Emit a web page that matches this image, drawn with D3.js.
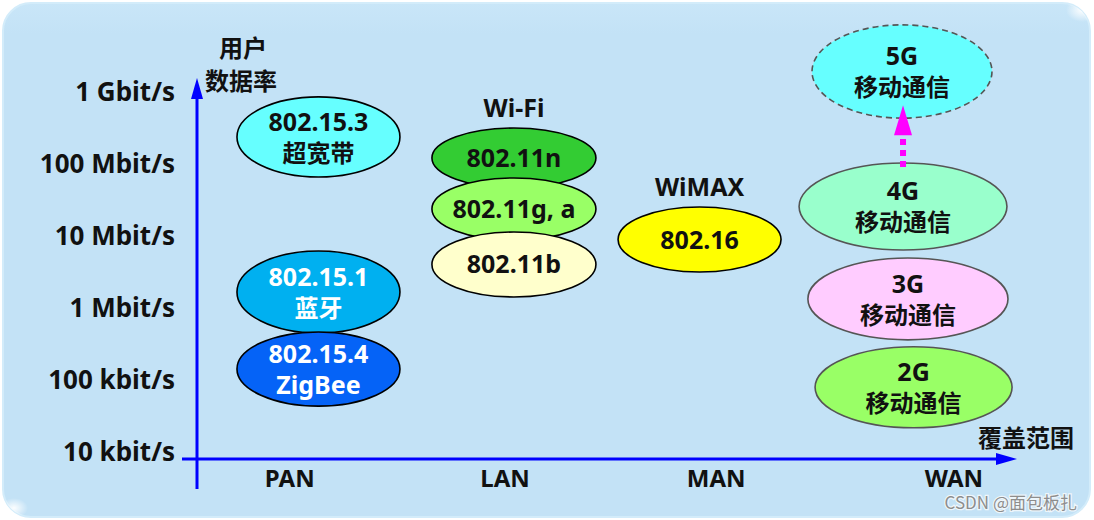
<!DOCTYPE html>
<html><head><meta charset="utf-8">
<script src="https://cdn.jsdelivr.net/npm/d3@7"></script>
<style>body{margin:0;background:#fff;}svg{display:block;}</style>
</head><body>
<svg id="chart" width="1094" height="520"></svg>
<script>
// ---------- DATA ----------
const rateTicks = [1e4, 1e5, 1e6, 1e7, 1e8, 1e9];
const rateTickLabels = ["10 kbit/s", "100 kbit/s", "1 Mbit/s", "10 Mbit/s", "100 Mbit/s", "1 Gbit/s"];
const categories = ["PAN", "LAN", "MAN", "WAN"];
const categoryCoverage = [0.45, 1.50, 2.53, 3.69];

const techIds = ["uwb", "bt", "zigbee", "n", "ga", "b", "wimax", "g5", "g4", "g3", "g2"];
const techLines = [
  ["802.15.3", "超宽带"], ["802.15.1", "蓝牙"], ["802.15.4", "ZigBee"],
  ["802.11n"], ["802.11g, a"], ["802.11b"], ["802.16"],
  ["5G", "移动通信"], ["4G", "移动通信"], ["3G", "移动通信"], ["2G", "移动通信"]
];
const techCategory = ["PAN", "PAN", "PAN", "LAN", "LAN", "LAN", "MAN", "WAN", "WAN", "WAN", "WAN"];
const rateLow  = [6.4e7, 4.35e5, 4.2e4, 4.5e7, 8.5e6, 1.38e6, 3.06e6, 4.2e8, 6.2e6, 3.5e5, 2.1e4];
const rateHigh = [8.3e8, 6.0e6, 4.5e5, 3.06e8, 6.2e7, 1.1e7, 2.45e7, 8.3e9, 1.0e8, 4.8e6, 2.8e5];
const coverageLow  = [0.195, 0.195, 0.195, 1.146, 1.146, 1.146, 2.054, 3.00, 2.937, 2.98, 3.015];
const coverageHigh = [0.990, 0.990, 0.990, 1.946, 1.946, 1.946, 2.849, 3.878, 3.951, 3.956, 3.976];

const groupNames = ["Wi-Fi", "WiMAX"];
const groupTopTech = ["n", "wimax"];

const yAxisTitle = ["用户", "数据率"];
const xAxisTitle = "覆盖范围";
const watermark = "CSDN @面包板扎";

// ---------- STYLE ----------
const fillOf = {uwb:"#66FFFF", bt:"#00B0F0", zigbee:"#0563F7", n:"#33CC33", ga:"#99FF66", b:"#FFFFCC",
  wimax:"#FFFF00", g5:"#66FFFF", g4:"#99FFCC", g3:"#FFCCFF", g2:"#99FF66"};
const textFillOf = {bt:"#FFFFFF", zigbee:"#FFFFFF"};
const strokeOf = {g5:"#555", g4:"#555", g3:"#555", g2:"#555"};
const dashedOf = {g5:"6,4"};
const LATIN = "'Noto Sans', 'Noto Sans CJK SC', sans-serif";
const CJK = "'Noto Sans CJK SC', 'Noto Sans', sans-serif";
const axisColor = "#0000FF";

// ---------- SCALES ----------
const svg = d3.select("#chart");
const y = d3.scaleLog().domain([1e4, 1e9]).range([451, 91]);
const x = d3.scaleLinear().domain([0, 4]).range([197, 1017]);
const xAxisY = 459;

// background
const defs = svg.append("defs");
const hg = defs.append("radialGradient").attr("id", "hl");
hg.append("stop").attr("offset", "0%").attr("stop-color", "#fff").attr("stop-opacity", 0.95);
hg.append("stop").attr("offset", "100%").attr("stop-color", "#fff").attr("stop-opacity", 0);
const bg = defs.append("linearGradient").attr("id", "bg").attr("x1", 0).attr("y1", 0).attr("x2", 0).attr("y2", 1);
bg.append("stop").attr("offset", "0%").attr("stop-color", "#C9E6F8");
bg.append("stop").attr("offset", "6%").attr("stop-color", "#C3E2F6");
bg.append("stop").attr("offset", "100%").attr("stop-color", "#C3E2F6");
defs.append("clipPath").attr("id", "bgclip").append("rect")
  .attr("x", 3).attr("y", 3).attr("width", 1087).attr("height", 514).attr("rx", 28);

svg.append("rect").attr("x", 3).attr("y", 3).attr("width", 1087).attr("height", 514).attr("rx", 28)
  .attr("fill", "url(#bg)").attr("stroke", "#D3ECFA").attr("stroke-width", 2);
const hlG = svg.append("g").attr("clip-path", "url(#bgclip)");
hlG.append("ellipse").attr("cx", 1082).attr("cy", 10).attr("rx", 16).attr("ry", 12).attr("fill", "url(#hl)");
hlG.append("ellipse").attr("cx", 14).attr("cy", 508).attr("rx", 14).attr("ry", 10).attr("fill", "url(#hl)");

// ---------- AXES ----------
const yAxis = d3.axisLeft(y).tickValues(rateTicks).tickFormat((d, i) => rateTickLabels[i]).tickSize(0).tickPadding(22);
const yG = svg.append("g").attr("transform", `translate(197,0)`).call(yAxis);
yG.select(".domain").remove();
yG.selectAll("text").attr("font-family", LATIN).attr("font-weight", "bold").attr("font-size", 26)
  .attr("fill", "#111").attr("dy", "0.35em");

const xAxis = d3.axisBottom(x).tickValues(categoryCoverage).tickFormat((d, i) => categories[i]).tickSize(0).tickPadding(8);
const xG = svg.append("g").attr("transform", `translate(0,${xAxisY})`).call(xAxis);
xG.select(".domain").remove();
xG.selectAll("text").attr("font-family", LATIN).attr("font-weight", "bold").attr("font-size", 24)
  .attr("fill", "#111").attr("dy", "0.82em");

// axis lines with arrows
svg.append("line").attr("x1", 197).attr("x2", 197).attr("y1", 489).attr("y2", 97)
  .attr("stroke", axisColor).attr("stroke-width", 3);
svg.append("path").attr("d", `M197,78 L191,99 L203,99 Z`).attr("fill", axisColor);
svg.append("line").attr("x1", 182).attr("x2", 1000).attr("y1", xAxisY).attr("y2", xAxisY)
  .attr("stroke", axisColor).attr("stroke-width", 3);
svg.append("path").attr("d", `M1017,${xAxisY} L996,${xAxisY - 6} L996,${xAxisY + 6} Z`).attr("fill", axisColor);

// axis titles
const yt = svg.append("text").attr("text-anchor", "middle")
  .attr("font-family", CJK).attr("font-weight", "bold").attr("font-size", 24).attr("fill", "#111");
yt.append("tspan").attr("x", 243).attr("y", 48).attr("dy", "0.36em").text(yAxisTitle[0]);
yt.append("tspan").attr("x", 241).attr("y", 81).attr("dy", "0.36em").text(yAxisTitle[1]);
svg.append("text").attr("x", 1026).attr("y", 438).attr("dy", "0.36em").attr("text-anchor", "middle")
  .attr("font-family", CJK).attr("font-weight", "bold").attr("font-size", 24).attr("fill", "#111").text(xAxisTitle);

// ---------- ELLIPSES ----------
const techs = techIds.map((id, i) => ({
  id, lines: techLines[i], cat: techCategory[i],
  cx: (x(coverageLow[i]) + x(coverageHigh[i])) / 2,
  rx: (x(coverageHigh[i]) - x(coverageLow[i])) / 2,
  cy: (y(rateLow[i]) + y(rateHigh[i])) / 2,
  ry: (y(rateLow[i]) - y(rateHigh[i])) / 2,
  top: y(rateHigh[i]), bottom: y(rateLow[i])
}));
const byId = Object.fromEntries(techs.map(t => [t.id, t]));

const g = svg.append("g");
techs.forEach(t => {
  const e = g.append("g");
  e.append("ellipse").attr("cx", t.cx).attr("cy", t.cy).attr("rx", t.rx).attr("ry", t.ry)
    .attr("fill", fillOf[t.id]).attr("stroke", strokeOf[t.id] || "#000")
    .attr("stroke-width", 1.6).attr("stroke-dasharray", dashedOf[t.id] || null);
  const n = t.lines.length;
  const txt = e.append("text").attr("text-anchor", "middle").attr("font-weight", "bold")
    .attr("font-family", LATIN).attr("fill", textFillOf[t.id] || "#111");
  t.lines.forEach((ln, j) => {
    const isCJK = /[\u4e00-\u9fff]/.test(ln);
    const off = n === 1 ? 0 : (j === 0 ? -15 : 16);
    txt.append("tspan").attr("x", t.cx).attr("y", t.cy + off).attr("dy", "0.36em")
      .attr("font-family", isCJK ? CJK : LATIN).attr("font-size", isCJK ? 24 : 25).text(ln);
  });
});

// group labels
groupNames.forEach((name, i) => {
  const t = byId[groupTopTech[i]];
  svg.append("text").attr("x", t.cx).attr("y", t.top - 20).attr("dy", "0.36em").attr("text-anchor", "middle")
    .attr("font-family", LATIN).attr("font-weight", "bold").attr("font-size", 25).attr("fill", "#111").text(name);
});

// evolution arrow 4G -> 5G
const a4 = byId.g4, a5 = byId.g5;
const ax = a4.cx;
const tipY = a5.bottom - 13, baseY = tipY + 30;
svg.append("line").attr("x1", ax).attr("x2", ax).attr("y1", a4.top + 4).attr("y2", baseY)
  .attr("stroke", "#FF00FF").attr("stroke-width", 6).attr("stroke-dasharray", "6,5");
svg.append("path").attr("d", `M${ax},${tipY} L${ax - 9},${baseY} L${ax + 9},${baseY} Z`).attr("fill", "#FF00FF");

// watermark
svg.append("text").attr("x", 1077).attr("y", 503).attr("dy", "0.36em").attr("text-anchor", "end")
  .attr("font-family", CJK).attr("font-size", 17).attr("fill", "#8d8d8d")
  .attr("stroke", "#eef6fb").attr("stroke-width", 2.5).attr("paint-order", "stroke").text(watermark);
</script>
</body></html>
